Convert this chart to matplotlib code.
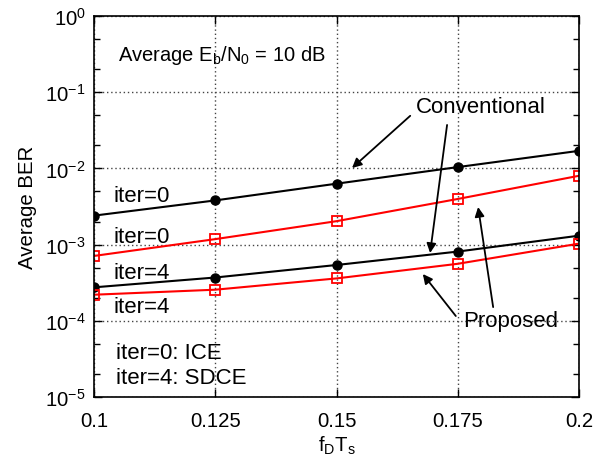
import matplotlib
matplotlib.use("Agg")
import matplotlib.pyplot as plt
from matplotlib.ticker import LogLocator, FixedLocator, LogFormatterSciNotation, NullFormatter

plt.rcParams['font.family'] = ['Liberation Sans', 'DejaVu Sans']
plt.rcParams['mathtext.fontset'] = 'custom'
plt.rcParams['mathtext.rm'] = 'Liberation Sans'
plt.rcParams['mathtext.it'] = 'Liberation Sans'
plt.rcParams['mathtext.bf'] = 'Liberation Sans'

# Normalized Doppler frequency
fdts = [0.1, 0.125, 0.15, 0.175, 0.2]
xtick_labels = ["0.1", "0.125", "0.15", "0.175", "0.2"]

# Average BER at Eb/N0 = 10 dB
conv_iter0 = [2.4e-3, 3.8e-3, 6.3e-3, 1.04e-2, 1.7e-2]
prop_iter0 = [7.1e-4, 1.18e-3, 2.03e-3, 3.97e-3, 8.0e-3]
conv_iter4 = [2.75e-4, 3.7e-4, 5.4e-4, 8.1e-4, 1.31e-3]
prop_iter4 = [2.2e-4, 2.56e-4, 3.6e-4, 5.6e-4, 1.03e-3]

fig = plt.figure(figsize=(6.05, 4.64), dpi=100)
ax = fig.add_axes([0.1554, 0.1422, 0.8016, 0.8212])

ax.plot(fdts, conv_iter0, '-o', color='black', lw=1.5, ms=6.5)
ax.plot(fdts, prop_iter0, '-s', color='red', lw=1.5, ms=7, mfc='none', mew=1.3)
ax.plot(fdts, conv_iter4, '-o', color='black', lw=1.5, ms=6.5)
ax.plot(fdts, prop_iter4, '-s', color='red', lw=1.5, ms=7, mfc='none', mew=1.3)

ax.set_yscale('log')
ax.set_xlim(0.1, 0.2)
ax.set_ylim(1e-5, 1e0)
ax.xaxis.set_major_locator(FixedLocator(fdts))
ax.set_xticklabels(xtick_labels)
ax.yaxis.set_major_locator(LogLocator(base=10, numticks=10))
ax.yaxis.set_major_formatter(LogFormatterSciNotation())
ax.yaxis.set_minor_locator(LogLocator(base=10, subs=(2.0, 5.0), numticks=10))
ax.yaxis.set_minor_formatter(NullFormatter())

ax.tick_params(which='both', direction='in', top=True, right=True, labelsize=14.7)
ax.tick_params(which='major', length=6, width=1)
ax.tick_params(which='minor', length=4, width=1)
ax.tick_params(axis='x', pad=10)
ax.tick_params(axis='y', pad=6)
for s in ax.spines.values():
    s.set_linewidth(1.2)

ax.grid(True, which='major', linestyle=(0, (1, 2)), color='#444444', lw=1)

ax.set_xlabel(r'f$_\mathregular{D}$T$_\mathregular{s}$', fontsize=14.7, labelpad=3)
ax.set_ylabel('Average BER', fontsize=14.7, labelpad=6)

fs = 16
ax.text(0.1049, 10**-0.50, r'Average E$_\mathregular{b}$/N$_\mathregular{0}$ = 10 dB', fontsize=14.5, va='center')
ax.text(0.1041, 10**-2.36, 'iter=0', fontsize=fs, va='center')
ax.text(0.1041, 10**-2.89, 'iter=0', fontsize=fs, va='center')
ax.text(0.1041, 10**-3.36, 'iter=4', fontsize=fs, va='center')
ax.text(0.1041, 10**-3.81, 'iter=4', fontsize=fs, va='center')
ax.text(0.1045, 10**-4.41, 'iter=0: ICE', fontsize=fs, va='center')
ax.text(0.1045, 10**-4.74, 'iter=4: SDCE', fontsize=fs, va='center')

arrow = dict(arrowstyle='-|>', color='black', lw=1.3, mutation_scale=14, shrinkA=0, shrinkB=0)
ax.text(0.1798, 10**-1.19, 'Conventional', fontsize=fs, ha='center', va='center')
ax.annotate('', xy=(0.1532, 10**-1.995), xytext=(0.1652, 10**-1.31), arrowprops=arrow)
ax.annotate('', xy=(0.1693, 10**-3.11), xytext=(0.1728, 10**-1.43), arrowprops=arrow)

ax.text(0.1860, 10**-4.0, 'Proposed', fontsize=fs, ha='center', va='center')
ax.annotate('', xy=(0.1678, 10**-3.386), xytext=(0.1746, 10**-3.937), arrowprops=arrow)
ax.annotate('', xy=(0.1792, 10**-2.507), xytext=(0.1823, 10**-3.82), arrowprops=arrow)

fig.savefig('out.png', dpi=100)
